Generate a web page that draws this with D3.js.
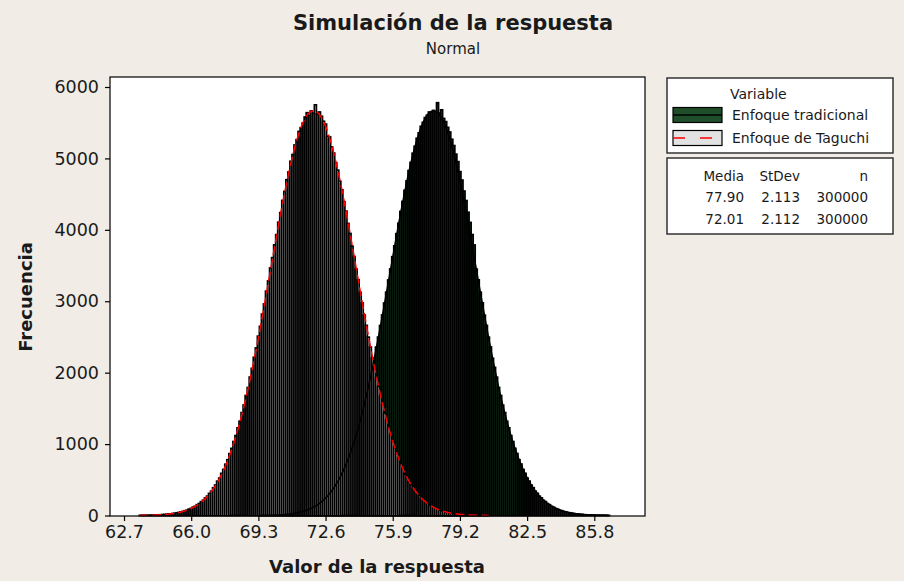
<!DOCTYPE html>
<html>
<head>
<meta charset="utf-8">
<script src="https://cdn.jsdelivr.net/npm/d3@7"></script>
<style>
  body { margin: 0; background: #f1ede6; }
  svg { display: block; }
  text { font-family: "DejaVu Sans", sans-serif; fill: #1a1a1a; }
</style>
</head>
<body>
<svg id="chart"></svg>
<script>
// histogram bins (width 0.1), counts
var binWidth = 0.1;
var tagStart = 63.5;
var tagCounts = [
  2,2,3,3,4,4,5,7,7,9, 11,12,15,16,21,22,28,31,38,42, 51,57,67,75,89,99,
  117,129,151,167,193,214,246,271,309,341,
  388,426,481,524,590,645,718,781,866,940,
  1036,1119,1228,1320,1441,1547,1680,1792,1938,2060,
  2215,2346,2511,2648,2820,2962,3141,3285,3466,3611,
  3790,3932,4107,4241,4412,4538,4702,4810,4960,5055,
  5188,5262,5378,5430,5495,5580,5640,5600,5665,5630,
  5750,5620,5650,5590,5520,5480,5310,5300,5160,5075,
  4940,4835,4680,4560,4395,4262,4090,3950,3772,3626,
  3450,3302,3125,2978,2806,2662,2497,2358,2201,2072,
  1925,1806,1668,1557,1430,1331,1217,1128,1026,948,
  857,789,709,652,581,533,472,432,380,347,
  303,277,240,219,188,171,146,133,112,102,
  86,78,64,59,48,44,36,33,26,24,
  19,17,14,12,10,9,7,6,5,4,
  4,3,3,2,2,2
];
var tradStart = 69.4;
var tradCounts = [
  2,3,3,3,4,5,5,6,8,9, 10,13,14,17,19,24,26,32,36,44, 49,59,65,77,87,101,
  114,132,148,171,190,218,241,276,305,346,
  383,431,475,531,584,650,712,788,859,947,
  1028,1128,1219,1330,1432,1556,1669,1803,1927,2070,
  2204,2358,2498,2660,2808,2975,3128,3298,3452,3624,
  3776,3946,4092,4258,4398,4553,4684,4830,4944,5072,
  5170,5282,5358,5450,5505,5572,5605,5650,5640,5672,
  5655,5780,5635,5680,5560,5515,5435,5370,5268,5180,
  5060,4955,4815,4697,4543,4410,4246,4104,3934,3788,
  3450,3300,3126,2978,2805,2662,2497,2360,2202,2074,
  1937,1792,1680,1545,1441,1318,1228,1119,1035,940,
  868,781,720,644,590,524,481,425,389,340,
  311,270,246,212,194,166,151,128,116,98,
  89,74,67,56,51,42,38,31,28,22,
  20,16,15,11,10,8,8,5,5,4,
  3,3,2,2,2,1
];

var seriesNames = ["Enfoque tradicional", "Enfoque de Taguchi"];
var statMedia = ["77.90", "72.01"];
var statStDev = ["2.113", "2.112"];
var statN = ["300000", "300000"];

var xTicks = [62.7, 66.0, 69.3, 72.6, 75.9, 79.2, 82.5, 85.8];
var yTicks = [0, 1000, 2000, 3000, 4000, 5000, 6000];

var width = 904, height = 581;
var plot = { left: 110, right: 645, top: 77, bottom: 516 };

var svg = d3.select("#chart").attr("width", width).attr("height", height);

svg.append("rect").attr("width", width).attr("height", height).attr("fill", "#f1ede6");

var x = d3.scaleLinear().domain([62.7, 85.8]).range([124, 594.3]);
var y = d3.scaleLinear().domain([0, 6000]).range([515.5, 87]);

svg.append("rect")
  .attr("x", plot.left).attr("y", plot.top)
  .attr("width", plot.right - plot.left).attr("height", plot.bottom - plot.top)
  .attr("fill", "#fff");

function toBins(start, counts) {
  return counts.map(function (c, i) { return { mid: start + i * binWidth, count: c }; });
}

var series = [
  { bins: toBins(tradStart, tradCounts), fill: "#1e4f2a", line: "#000", dash: null,
    mean: +statMedia[0], sd: +statStDev[0], n: +statN[0] },
  { bins: toBins(tagStart, tagCounts), fill: "#e2e2e2", line: "#ff0000", dash: "9,4",
    mean: +statMedia[1], sd: +statStDev[1], n: +statN[1] }
];

// bars are narrower than their outlines, so mostly the black edge shows
var barW = x(binWidth) - x(0);
var bars = svg.append("g");

series.forEach(function (s) {
  bars.append("g").selectAll("rect")
    .data(s.bins)
    .enter().append("rect")
    .attr("x", function (d) { return x(d.mid - binWidth / 2); })
    .attr("y", function (d) { return y(d.count); })
    .attr("width", barW)
    .attr("height", function (d) { return y(0) - y(d.count); })
    .attr("fill", s.fill)
    .attr("stroke", "#000")
    .attr("stroke-width", 1.7);
});

// normal fit lines from the stats table
var line = d3.line()
  .x(function (d) { return x(d[0]); })
  .y(function (d) { return y(d[1]); });

series.forEach(function (s) {
  var lo = s.bins[0].mid - binWidth / 2;
  var hi = s.bins[s.bins.length - 1].mid + binWidth / 2;
  var pts = d3.range(lo, hi, 0.02).map(function (v) {
    var z = (v - s.mean) / s.sd;
    return [v, s.n * binWidth * Math.exp(-0.5 * z * z) / (s.sd * Math.sqrt(2 * Math.PI))];
  });
  svg.append("path")
    .attr("d", line(pts))
    .attr("fill", "none")
    .attr("stroke", s.line)
    .attr("stroke-width", 1.5)
    .attr("stroke-dasharray", s.dash);
});

// frame
svg.append("rect")
  .attr("x", plot.left).attr("y", plot.top)
  .attr("width", plot.right - plot.left).attr("height", plot.bottom - plot.top)
  .attr("fill", "none").attr("stroke", "#000").attr("stroke-width", 1.2);

var xAxis = svg.append("g")
  .attr("transform", "translate(0," + plot.bottom + ")")
  .call(d3.axisBottom(x).tickValues(xTicks).tickFormat(d3.format(".1f")).tickSize(5).tickPadding(5));
var yAxis = svg.append("g")
  .attr("transform", "translate(" + plot.left + ",0)")
  .call(d3.axisLeft(y).tickValues(yTicks).tickSize(5).tickPadding(6).tickFormat(d3.format("d")));

[xAxis, yAxis].forEach(function (a) {
  a.select(".domain").remove();
  a.selectAll("line").attr("stroke", "#000").attr("stroke-width", 1.2);
  a.selectAll("text").style("font-family", "DejaVu Sans").style("font-size", "17.5px").attr("fill", "#1a1a1a");
});

// titles
svg.append("text").attr("x", 453).attr("y", 30).attr("text-anchor", "middle")
  .style("font-size", "21px").style("font-weight", "bold").text("Simulación de la respuesta");
svg.append("text").attr("x", 453).attr("y", 54).attr("text-anchor", "middle")
  .style("font-size", "15px").text("Normal");
svg.append("text").attr("x", 377).attr("y", 573).attr("text-anchor", "middle")
  .style("font-size", "18px").style("font-weight", "bold").text("Valor de la respuesta");
svg.append("text").attr("transform", "translate(32,297) rotate(-90)").attr("text-anchor", "middle")
  .style("font-size", "18px").style("font-weight", "bold").text("Frecuencia");

// legend
var leg = svg.append("g");
leg.append("rect").attr("x", 667).attr("y", 78).attr("width", 226).attr("height", 75)
  .attr("fill", "#fff").attr("stroke", "#333").attr("stroke-width", 1.5);
leg.append("rect").attr("x", 667).attr("y", 158).attr("width", 226).attr("height", 76)
  .attr("fill", "#fff").attr("stroke", "#333").attr("stroke-width", 1.5);

leg.append("text").attr("x", 730).attr("y", 94).attr("dy", "0.35em")
  .style("font-size", "14px").text("Variable");

var swY = [115, 138];
series.forEach(function (s, i) {
  leg.append("rect").attr("x", 673).attr("y", swY[i] - 7.5).attr("width", 49).attr("height", 15)
    .attr("fill", s.fill).attr("stroke", "#000").attr("stroke-width", 1.2);
  leg.append("line").attr("x1", 673).attr("x2", 722).attr("y1", swY[i]).attr("y2", swY[i])
    .attr("stroke", s.line).attr("stroke-width", 1.3)
    .attr("stroke-dasharray", s.dash ? "12,15" : null);
  leg.append("text").attr("x", 732).attr("y", swY[i]).attr("dy", "0.35em")
    .style("font-size", "14px").text(seriesNames[i]);
});

var cols = [744, 800, 868];
var header = ["Media", "StDev", "n"];
header.forEach(function (h, j) {
  leg.append("text").attr("x", cols[j]).attr("y", 176).attr("dy", "0.35em").attr("text-anchor", "end")
    .style("font-size", "13.5px").text(h);
});
[0, 1].forEach(function (i) {
  [statMedia[i], statStDev[i], statN[i]].forEach(function (v, j) {
    leg.append("text").attr("x", cols[j]).attr("y", 197 + i * 22).attr("dy", "0.35em").attr("text-anchor", "end")
      .style("font-size", "13.5px").text(v);
  });
});
</script>
</body>
</html>
